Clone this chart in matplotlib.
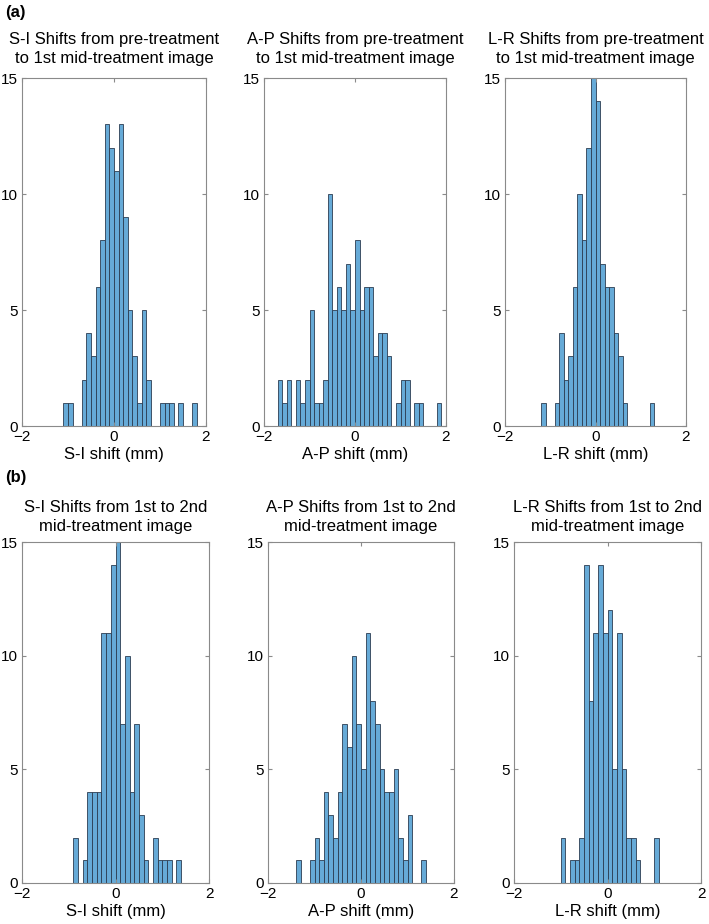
import numpy as np
import matplotlib
matplotlib.use("Agg")
import matplotlib.pyplot as plt

plt.rcParams['font.family'] = ['Liberation Sans', 'DejaVu Sans']

BIN_WIDTH = 0.1

# ---- data (counts per 0.1 mm bin, starting at the given left edge) ----
si_pre_start = -1.1
si_pre_counts = [1, 1, 0, 0, 2, 4, 3, 6, 8, 13, 12, 11, 13, 9, 5, 3, 1, 5, 2, 0, 0, 1, 1, 1, 0, 1, 0, 0, 1]
ap_pre_start = -1.7
ap_pre_counts = [2, 1, 2, 0, 2, 1, 2, 5, 1, 1, 2, 10, 5, 6, 5, 7, 5, 8, 5, 6, 6, 3, 4, 4, 3, 0, 1, 2, 2, 0, 1, 1, 0, 0, 0, 1]
lr_pre_start = -1.2
lr_pre_counts = [1, 0, 0, 1, 4, 2, 3, 6, 10, 8, 12, 15, 14, 7, 6, 6, 4, 3, 1, 0, 0, 0, 0, 0, 1]
si_mid_start = -0.9
si_mid_counts = [2, 0, 1, 4, 4, 4, 11, 11, 14, 15, 7, 10, 4, 7, 3, 1, 0, 2, 1, 1, 1, 0, 1]
ap_mid_start = -1.4
ap_mid_counts = [1, 0, 0, 1, 2, 1, 4, 3, 2, 4, 7, 6, 10, 7, 5, 11, 8, 7, 5, 4, 4, 5, 2, 1, 3, 0, 0, 1]
lr_mid_start = -1.0
lr_mid_counts = [2, 0, 1, 1, 2, 14, 8, 11, 14, 11, 12, 5, 11, 5, 2, 2, 1, 0, 0, 0, 2]

titles = [
    "S-I Shifts from pre-treatment\nto 1st mid-treatment image",
    "A-P Shifts from pre-treatment\nto 1st mid-treatment image",
    "L-R Shifts from pre-treatment\nto 1st mid-treatment image",
    "S-I Shifts from 1st to 2nd\nmid-treatment image",
    "A-P Shifts from 1st to 2nd\nmid-treatment image",
    "L-R Shifts from 1st to 2nd\nmid-treatment image",
]
xlabels = ["S-I shift (mm)", "A-P shift (mm)", "L-R shift (mm)"] * 2
xticks = [-2, 0, 2]
yticks = [0, 5, 10, 15]
panel_labels = ["(a)", "(b)"]

series = [
    (si_pre_start, si_pre_counts), (ap_pre_start, ap_pre_counts), (lr_pre_start, lr_pre_counts),
    (si_mid_start, si_mid_counts), (ap_mid_start, ap_mid_counts), (lr_mid_start, lr_mid_counts),
]

W, H = 709, 924
fig = plt.figure(figsize=(W / 100, H / 100), dpi=100)

# axes boxes in pixel coordinates: (left, right, top, bottom)
boxes = [
    (22, 206, 78, 426), (264, 446, 78, 426), (505, 686, 78, 426),
    (22, 209, 542, 883), (268, 454, 542, 883), (514, 701, 542, 883),
]

face = (0.4, 0.668, 0.845)
edge = '#2b3d52'
spine = '#8a8a8a'

for i, ((start, counts), (l, r, t, b)) in enumerate(zip(series, boxes)):
    ax = fig.add_axes([l / W, 1 - b / H, (r - l) / W, (b - t) / H])
    counts = np.array(counts, dtype=float)
    lefts = start + BIN_WIDTH * np.arange(len(counts))
    mask = counts > 0
    ax.bar(lefts[mask], counts[mask], width=BIN_WIDTH, align='edge',
           color=face, edgecolor=edge, linewidth=0.6)
    ax.set_xlim(-2, 2)
    ax.set_ylim(0, 15)
    ax.set_xticks(xticks)
    ax.set_yticks(yticks)
    ax.tick_params(direction='in', length=3, width=0.8, color=spine,
                   top=True, right=True, labelsize=11, pad=3)
    for s in ax.spines.values():
        s.set_color(spine)
        s.set_linewidth(0.8)
    ax.set_xlabel(xlabels[i], fontsize=12, labelpad=2)
    ax.set_title(titles[i], fontsize=12, linespacing=1.35,
                 pad=11 if i < 3 else 8)

fig.text(5 / W, 1 - 12 / H, panel_labels[0], fontsize=12, fontweight='bold',
         ha='left', va='center')
fig.text(5 / W, 1 - 478 / H, panel_labels[1], fontsize=12, fontweight='bold',
         ha='left', va='center')

fig.savefig("out.png", dpi=100)
